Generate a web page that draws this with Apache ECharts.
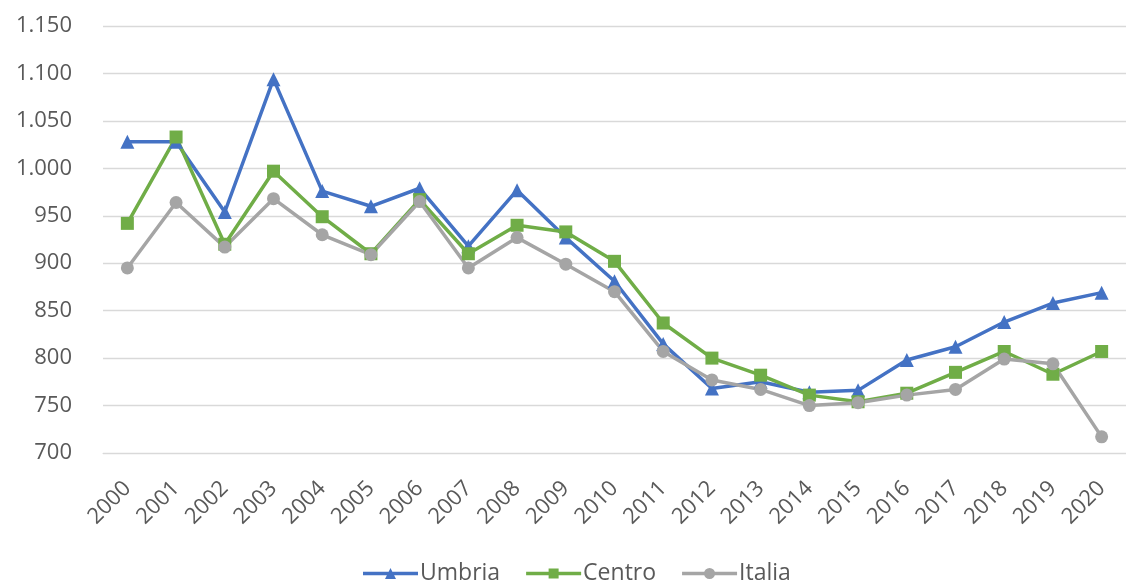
<!DOCTYPE html>
<html>
<head>
<meta charset="utf-8">
<script src="https://cdn.jsdelivr.net/npm/echarts@6/dist/echarts.min.js"></script>
<style>
  html, body { margin: 0; padding: 0; background: #fff; }
  #chart { width: 1126px; height: 586px; }
</style>
</head>
<body>
<div id="chart"></div>
<script>
const years = ['2000','2001','2002','2003','2004','2005','2006','2007','2008','2009','2010',
               '2011','2012','2013','2014','2015','2016','2017','2018','2019','2020'];
const umbria = [1028, 1028, 954, 1094, 976, 960, 979, 918, 977, 927, 881,
                815, 768, 775, 764, 766, 798, 812, 838, 858, 869];
const centro = [942, 1033, 920, 997, 949, 910, 967, 910, 940, 933, 902,
                837, 800, 782, 761, 754, 763, 785, 807, 783, 807];
const italia = [895, 964, 917, 968, 930, 909, 965, 895, 927, 899, 870,
                807, 777, 767, 750, 753, 761, 767, 799, 794, 717];

const FONT = '"Open Sans", sans-serif';
const TEXT = '#595959';

// Italian thousands separator: 1150 -> "1.150"
function fmt(v) {
  return String(v).replace(/\B(?=(\d{3})+(?!\d))/g, '.');
}

// Legend keys: a thick line segment with the series marker in the middle (55x11 box).
// All sub-paths wind clockwise so the overlap stays filled.
const BAR = 'M0,3.7 L55,3.7 L55,7.3 L0,7.3 Z ';
const ICONS = {
  triangle: 'path://' + BAR + 'M22,11 L27.5,0 L33,11 Z',
  rect: 'path://' + BAR + 'M22.5,0.5 L32.5,0.5 L32.5,10.5 L22.5,10.5 Z',
  circle: 'path://' + BAR + 'M22,5.5 A5.5,5.5 0 1 1 33,5.5 A5.5,5.5 0 1 1 22,5.5 Z'
};

function lineSeries(name, data, color, symbol, size) {
  return {
    name, type: 'line', data,
    symbol, symbolSize: size,
    lineStyle: { color, width: 3.5 },
    itemStyle: { color },
    emphasis: { disabled: true },
    animation: false
  };
}

const chart = echarts.init(document.getElementById('chart'));
chart.setOption({
  backgroundColor: '#fff',
  textStyle: { fontFamily: FONT },
  grid: { left: 103, right: -9, top: 26, bottom: 133, containLabel: false },
  xAxis: {
    type: 'category',
    data: years,
    boundaryGap: true,
    axisLine: { lineStyle: { color: '#d9d9d9', width: 1 } },
    axisTick: { show: false },
    axisLabel: { rotate: 45, color: TEXT, fontSize: 22, fontFamily: FONT, margin: 32, interval: 0 }
  },
  yAxis: {
    type: 'value',
    min: 700, max: 1150, interval: 50,
    axisLine: { show: false },
    axisTick: { show: false },
    splitLine: { lineStyle: { color: '#d9d9d9', width: 1.3 } },
    axisLabel: { color: TEXT, fontSize: 22, fontFamily: FONT, margin: 31, formatter: fmt }
  },
  legend: {
    bottom: -4,
    left: 358,
    itemWidth: 55,
    itemHeight: 11,
    itemGap: 26,
    textStyle: { color: TEXT, fontSize: 23, fontFamily: FONT, padding: [0, 0, 0, -3] },
    data: [
      { name: 'Umbria', icon: ICONS.triangle },
      { name: 'Centro', icon: ICONS.rect },
      { name: 'Italia', icon: ICONS.circle }
    ]
  },
  series: [
    lineSeries('Umbria', umbria, '#4472C4', 'triangle', 14),
    lineSeries('Centro', centro, '#70AD47', 'rect', 13),
    lineSeries('Italia', italia, '#A5A5A5', 'circle', 13)
  ]
});
</script>
</body>
</html>
